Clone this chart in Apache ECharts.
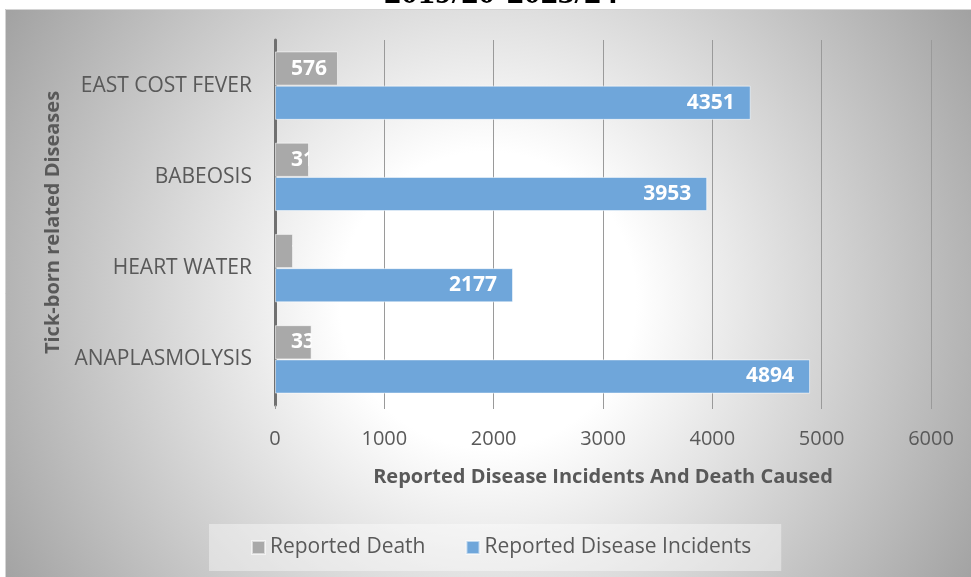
<!DOCTYPE html>
<html>
<head>
<meta charset="utf-8">
<script src="https://cdn.jsdelivr.net/npm/echarts@6/dist/echarts.min.js"></script>
<style>
  html, body { margin: 0; padding: 0; background: #ffffff; }
  #chart { width: 971px; height: 577px; }
</style>
</head>
<body>
<div id="chart"></div>
<script>
// Tick-borne disease figures, listed top to bottom as displayed
var diseases = ['EAST COST FEVER', 'BABEOSIS', 'HEART WATER', 'ANAPLASMOLYSIS'];
var reportedDeath = [576, 311, 165, 335];
var reportedIncidents = [4351, 3953, 2177, 4894];
var valueTicks = [0, 1000, 2000, 3000, 4000, 5000, 6000];

var titleText = '2019/20-2023/24';
var seriesNames = ['Reported Death', 'Reported Disease Incidents'];
var xAxisTitle = 'Reported Disease Incidents And Death Caused';
var yAxisTitle = 'Tick-born related Diseases';

var FONT = '"Open Sans", "Noto Sans", sans-serif';
var TEXT_GREY = '#595959';
var GRID_GREY = '#9a9a9a';

var chart = echarts.init(document.getElementById('chart'), null, { renderer: 'canvas' });

// label of the death bars, clipped to the bar itself
function deathLabel(params, api) {
  var idx = api.value(1);
  var val = api.value(0);
  var start = api.coord([0, idx]);
  var end = api.coord([val, idx]);
  var band = api.size([0, 1])[1];
  var barH = band * 0.375;
  var top = start[1] - barH;
  return {
    type: 'group',
    clipPath: {
      type: 'rect',
      shape: { x: start[0], y: top, width: end[0] - start[0], height: barH }
    },
    children: [{
      type: 'text',
      style: {
        text: String(val),
        x: start[0] + 16,
        y: top + barH / 2,
        verticalAlign: 'middle',
        align: 'left',
        fill: '#ffffff',
        font: 'bold 21px ' + FONT
      }
    }]
  };
}

var option = {
  animation: false,
  backgroundColor: {
    type: 'radial', x: 488, y: 300, r: 570, global: true,
    colorStops: [
      { offset: 0, color: '#ffffff' },
      { offset: 0.26, color: '#ffffff' },
      { offset: 1, color: '#a0a0a0' }
    ]
  },
  textStyle: { fontFamily: FONT },
  graphic: [
    { type: 'rect', z: 50, shape: { x: 0, y: 0, width: 971, height: 9 }, style: { fill: '#ffffff' } },
    { type: 'rect', z: 50, shape: { x: 0, y: 0, width: 5, height: 577 }, style: { fill: '#ffffff' } },
    { type: 'rect', z: 50, shape: { x: 5.5, y: 9.5, width: 970, height: 570 }, style: { fill: 'none', stroke: '#d4d4d4', lineWidth: 1 } },
    {
      type: 'text', z: 60,
      style: {
        text: titleText, x: 501, y: 11, align: 'center', verticalAlign: 'bottom',
        font: 'bold 34px "Liberation Serif", serif', fill: '#000000'
      }
    }
  ],
  grid: { left: 275, right: 40, top: 40, bottom: 172, containLabel: false },
  legend: {
    data: seriesNames,
    left: 209, top: 524,
    padding: [13, 30, 13, 42],
    itemGap: 40,
    itemWidth: 13, itemHeight: 13,
    icon: 'rect',
    backgroundColor: 'rgba(255,255,255,0.4)',
    textStyle: { color: TEXT_GREY, fontSize: 21, fontFamily: FONT }
  },
  xAxis: {
    type: 'value',
    min: valueTicks[0],
    max: valueTicks[valueTicks.length - 1],
    interval: valueTicks[1] - valueTicks[0],
    axisLine: { show: false },
    axisTick: { show: true, length: 4, lineStyle: { color: GRID_GREY, width: 1 } },
    splitLine: { show: true, lineStyle: { color: GRID_GREY, width: 1 } },
    axisLabel: {
      color: TEXT_GREY, fontSize: 20, margin: 24, fontFamily: FONT,
      formatter: function (v) { return String(v); }
    },
    name: xAxisTitle,
    nameLocation: 'middle',
    nameGap: 62,
    nameTextStyle: { color: TEXT_GREY, fontSize: 20, fontWeight: 'bold', fontFamily: FONT }
  },
  yAxis: {
    type: 'category',
    inverse: true,
    data: diseases,
    axisLine: { show: true, lineStyle: { color: '#707070', width: 3 } },
    axisTick: { show: false },
    axisLabel: { color: TEXT_GREY, fontSize: 21, margin: 23, fontFamily: FONT },
    name: yAxisTitle,
    nameLocation: 'middle',
    nameGap: 203,
    nameTextStyle: { color: TEXT_GREY, fontSize: 20, fontWeight: 'bold', fontFamily: FONT }
  },
  series: [
    {
      name: seriesNames[0],
      type: 'bar',
      data: reportedDeath,
      barGap: '0%',
      barCategoryGap: '25%',
      itemStyle: { color: '#a9a9a9', borderColor: 'rgba(255,255,255,0.55)', borderWidth: 1 },
      label: { show: false }
    },
    {
      name: seriesNames[1],
      type: 'bar',
      data: reportedIncidents,
      barGap: '0%',
      barCategoryGap: '25%',
      itemStyle: { color: '#6fa6da', borderColor: 'rgba(255,255,255,0.55)', borderWidth: 1 },
      label: {
        show: true, position: 'insideRight', distance: 16,
        color: '#ffffff', fontSize: 21, fontWeight: 'bold', fontFamily: FONT
      }
    },
    {
      name: 'deathValueLabels',
      type: 'custom',
      coordinateSystem: 'cartesian2d',
      encode: { x: 0, y: 1 },
      data: reportedDeath.map(function (v, i) { return [v, i]; }),
      renderItem: deathLabel,
      z: 5,
      silent: true
    }
  ]
};

chart.setOption(option);
</script>
</body>
</html>
